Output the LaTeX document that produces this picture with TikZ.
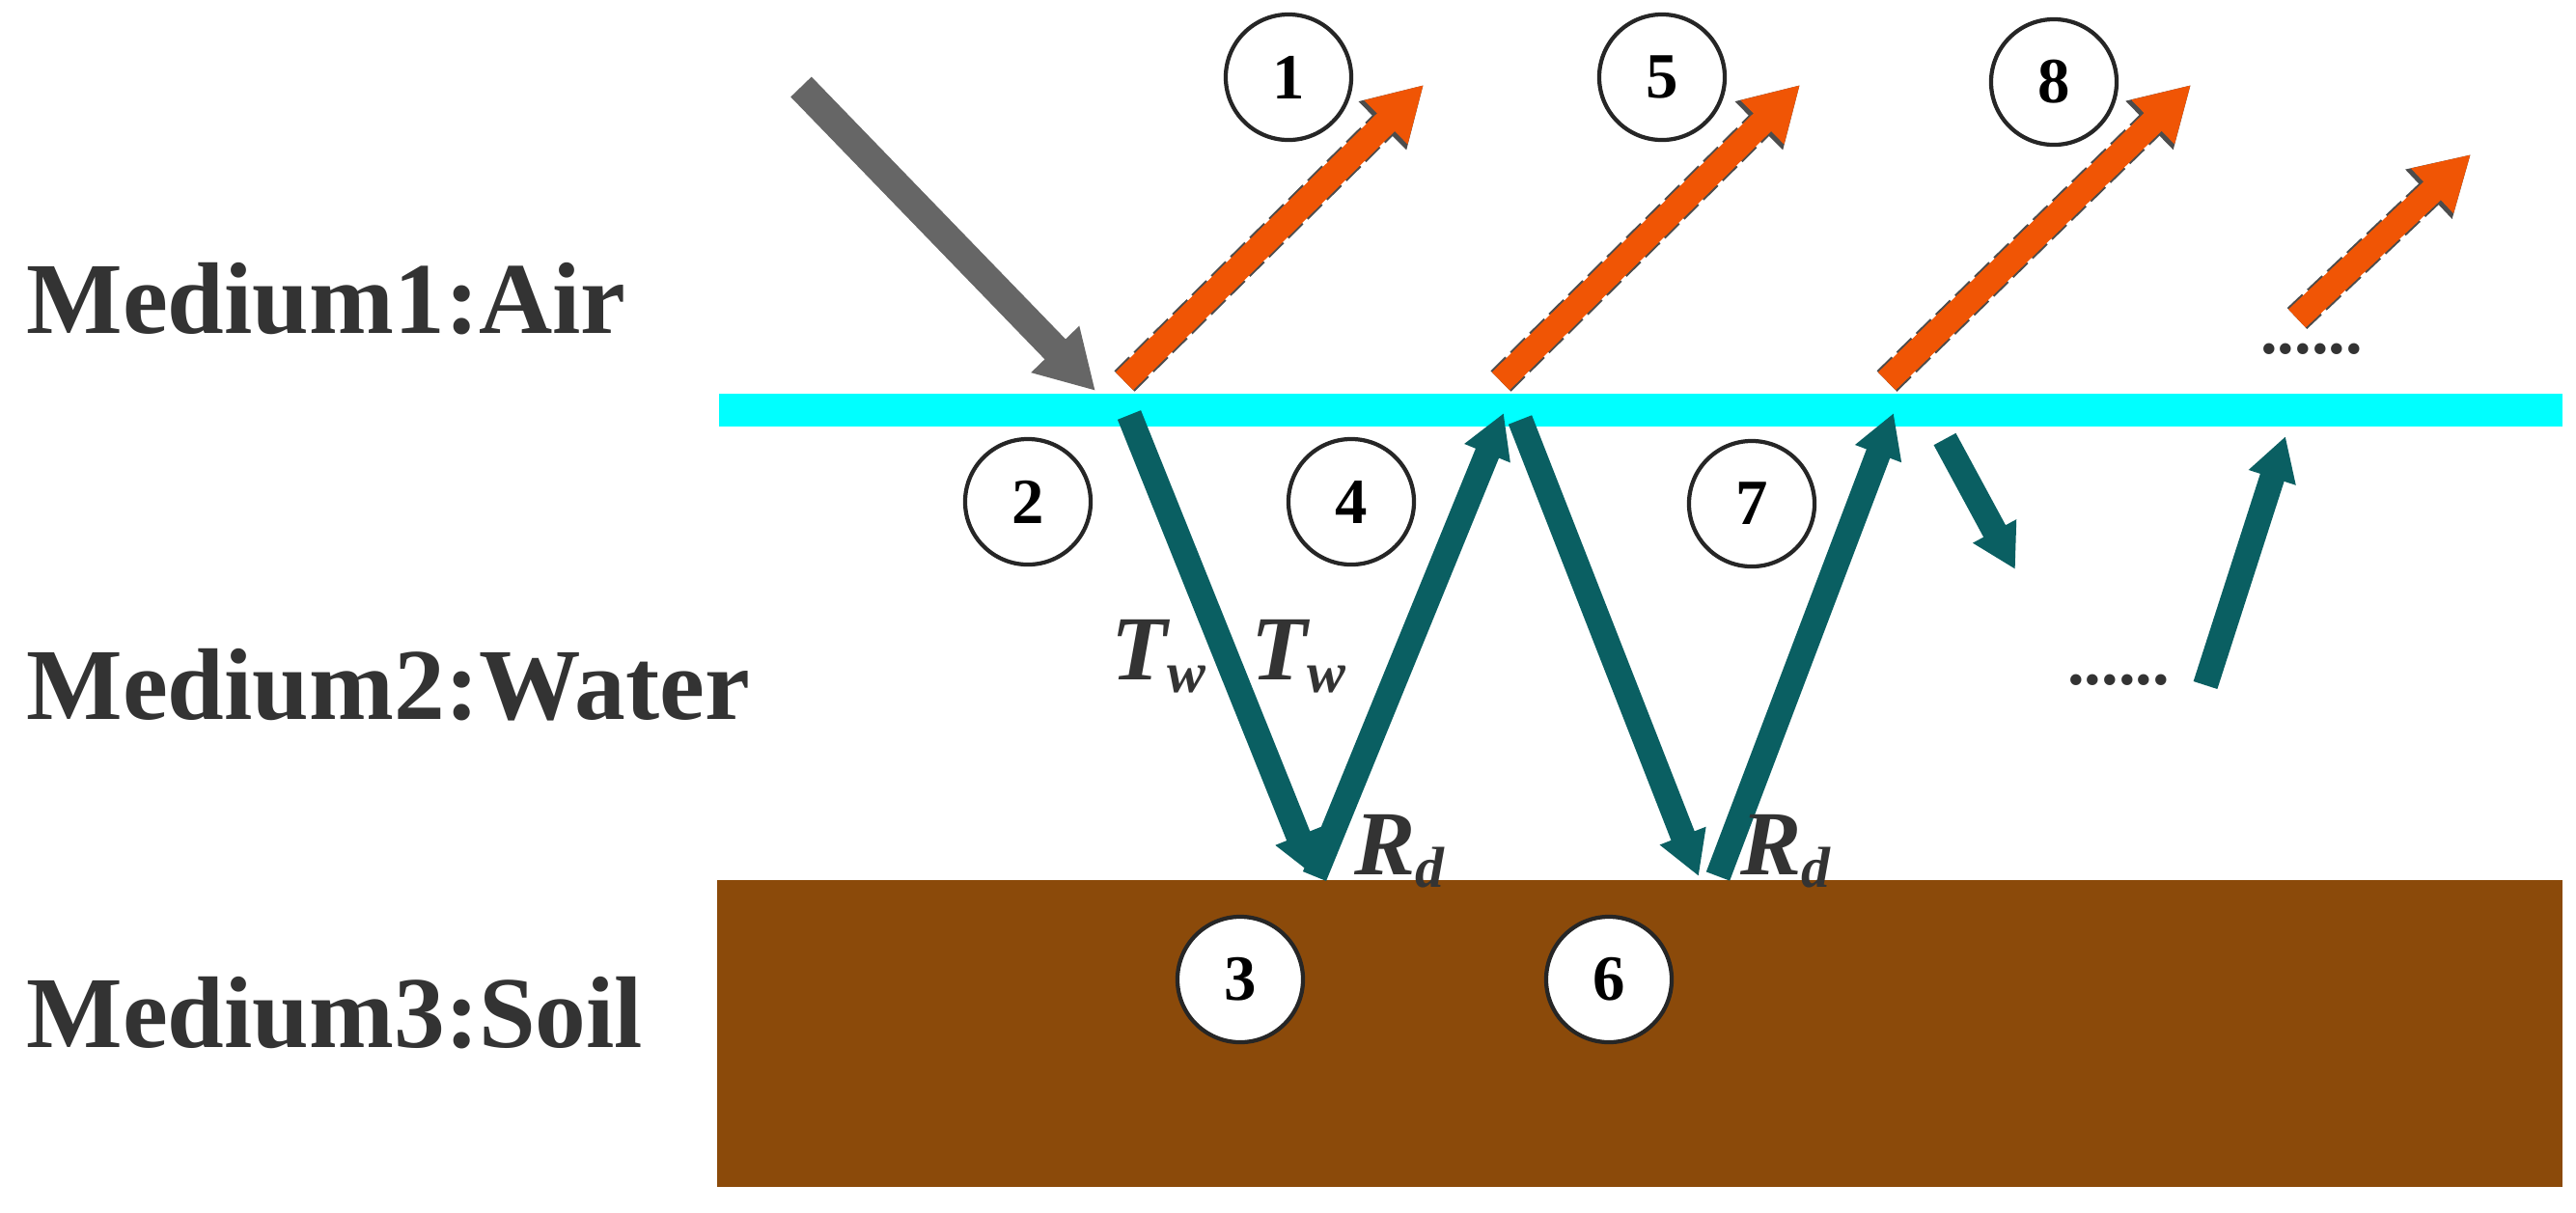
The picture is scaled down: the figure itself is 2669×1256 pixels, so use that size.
\documentclass[tikz,border=0pt]{standalone}
\usepackage{fontspec}
\setmainfont{Liberation Serif}
\usetikzlibrary{arrows.meta}
\definecolor{cy}{RGB}{0,255,255}
\definecolor{org}{RGB}{240,85,5}
\definecolor{tl}{RGB}{10,95,98}
\definecolor{soil}{RGB}{139,74,10}
\begin{document}
\begin{tikzpicture}[x=0.01cm,y=-0.01cm,
  orng/.style={draw=org, line width=0.26cm, -{Triangle[length=0.55cm,width=0.6cm]}},
  orngo/.style={draw=black!70, line width=0.30cm, -{Triangle[length=0.6cm,width=0.66cm]}, dash pattern=on 6pt off 2pt},
  teal/.style={draw=tl, line width=0.26cm, -{Triangle[length=0.45cm,width=0.48cm]}},
  gry/.style={draw=black!60, line width=0.3cm, -{Triangle[length=0.6cm,width=0.65cm]}},
  num/.style={circle, draw=black!85, fill=white, line width=1.2pt, minimum size=1.3cm, inner sep=0pt, font=\fontsize{19}{19}\selectfont\bfseries},
  med/.style={anchor=west, font=\fontsize{30}{30}\selectfont\bfseries, text=black!80},
  lab/.style={font=\fontsize{27}{27}\selectfont\bfseries\itshape, text=black!80},
  dots/.style={font=\fontsize{20}{20}\selectfont\bfseries, text=black!80}]
\useasboundingbox (0,0) rectangle (2669,1256);
\fill[white] (0,0) rectangle (2669,1256);
\fill[cy] (745,408) rectangle (2655,442);
\fill[soil] (743,912) rectangle (2655,1230);
\node[med] (m1) at (15,310) {Medium1:Air};
\node[med] (m2) at (15,710) {Medium2:Water};
\node[med] (m3) at (15,1050) {Medium3:Soil};
\coordinate (g0) at (830,90); \coordinate (g1) at (1135,405);
\coordinate (o1a) at (1165,395); \coordinate (o1b) at (1475,88);
\coordinate (o2a) at (1555,395); \coordinate (o2b) at (1865,88);
\coordinate (o3a) at (1955,395); \coordinate (o3b) at (2270,88);
\coordinate (o4a) at (2380,330); \coordinate (o4b) at (2560,160);
\coordinate (t1a) at (1170,430); \coordinate (t1b) at (1362,908);
\coordinate (t2a) at (1362,908); \coordinate (t2b) at (1558,428);
\coordinate (t3a) at (1575,435); \coordinate (t3b) at (1760,908);
\coordinate (t4a) at (1780,908); \coordinate (t4b) at (1962,428);
\coordinate (t5a) at (2015,455); \coordinate (t5b) at (2088,590);
\coordinate (t6a) at (2285,710); \coordinate (t6b) at (2368,452);
\draw[gry] (g0) -- (g1);
\foreach \a/\b in {o1a/o1b,o2a/o2b,o3a/o3b,o4a/o4b}{
  \draw[orngo] (\a) -- (\b);
  \draw[orng] (\a) -- (\b);}
\foreach \a/\b in {t1a/t1b,t2a/t2b,t3a/t3b,t4a/t4b,t5a/t5b,t6a/t6b}
  \draw[teal] (\a) -- (\b);
\node[num] (n1) at (1335,80) {1};
\node[num] (n5) at (1722,80) {5};
\node[num] (n8) at (2128,85) {8};
\node[num] (n2) at (1065,520) {2};
\node[num] (n4) at (1400,520) {4};
\node[num] (n7) at (1815,522) {7};
\node[num] (n3) at (1285,1015) {3};
\node[num] (n6) at (1667,1015) {6};
\node[lab] (tw1) at (1200,680) {T\raisebox{-0.3ex}{\fontsize{17}{17}\selectfont w}};
\node[lab] (tw2) at (1345,680) {T\raisebox{-0.3ex}{\fontsize{17}{17}\selectfont w}};
\node[lab] (rd1) at (1450,882) {R\raisebox{-0.3ex}{\fontsize{17}{17}\selectfont d}};
\node[lab] (rd2) at (1850,882) {R\raisebox{-0.3ex}{\fontsize{17}{17}\selectfont d}};
\node[dots] (d1) at (2395,362) {......};
\node[dots] (d2) at (2195,705) {......};
\end{tikzpicture}
\end{document}
